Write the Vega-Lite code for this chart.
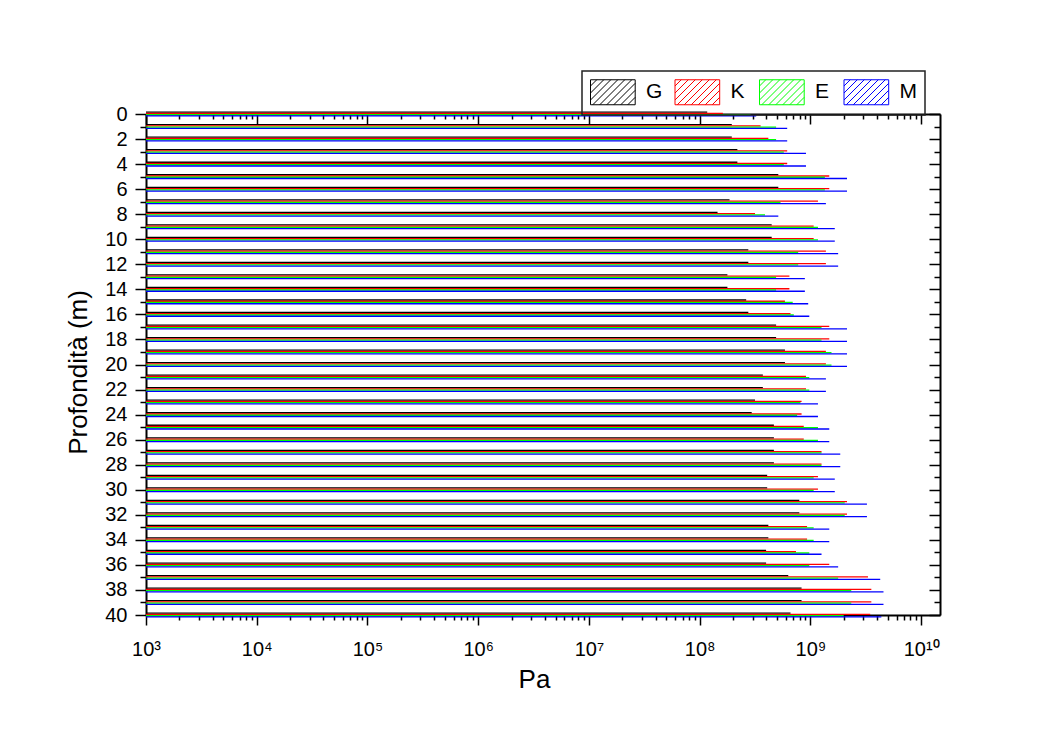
{
  "$schema": "https://vega.github.io/schema/vega-lite/v6.json",
  "autosize": "none",
  "width": 794,
  "height": 501,
  "padding": {"left": 146, "top": 114, "right": 100, "bottom": 131},
  "background": "white",
  "data": {
    "values": [
      {"d":0,"s":"G","v":1.17e8},{"d":0,"s":"K","v":1.62e8},{"d":0,"s":"E","v":2.88e8},{"d":0,"s":"M","v":3.24e8},
      {"d":1,"s":"G","v":1.95e8},{"d":1,"s":"K","v":3.55e8},{"d":1,"s":"E","v":4.9e8},{"d":1,"s":"M","v":6.17e8},
      {"d":2,"s":"G","v":1.95e8},{"d":2,"s":"K","v":4.17e8},{"d":2,"s":"E","v":4.9e8},{"d":2,"s":"M","v":6.17e8},
      {"d":3,"s":"G","v":2.19e8},{"d":3,"s":"K","v":6.17e8},{"d":3,"s":"E","v":5.75e8},{"d":3,"s":"M","v":9.12e8},
      {"d":4,"s":"G","v":2.19e8},{"d":4,"s":"K","v":6.17e8},{"d":4,"s":"E","v":5.75e8},{"d":4,"s":"M","v":9.12e8},
      {"d":5,"s":"G","v":5.13e8},{"d":5,"s":"K","v":1.48e9},{"d":5,"s":"E","v":1.35e9},{"d":5,"s":"M","v":2.14e9},
      {"d":6,"s":"G","v":5.13e8},{"d":6,"s":"K","v":1.48e9},{"d":6,"s":"E","v":1.35e9},{"d":6,"s":"M","v":2.14e9},
      {"d":7,"s":"G","v":1.86e8},{"d":7,"s":"K","v":1.17e9},{"d":7,"s":"E","v":5.37e8},{"d":7,"s":"M","v":1.38e9},
      {"d":8,"s":"G","v":1.45e8},{"d":8,"s":"K","v":3.16e8},{"d":8,"s":"E","v":3.89e8},{"d":8,"s":"M","v":5.13e8},
      {"d":9,"s":"G","v":4.47e8},{"d":9,"s":"K","v":1.07e9},{"d":9,"s":"E","v":1.17e9},{"d":9,"s":"M","v":1.66e9},
      {"d":10,"s":"G","v":4.47e8},{"d":10,"s":"K","v":1.07e9},{"d":10,"s":"E","v":1.17e9},{"d":10,"s":"M","v":1.66e9},
      {"d":11,"s":"G","v":2.75e8},{"d":11,"s":"K","v":1.38e9},{"d":11,"s":"E","v":7.76e8},{"d":11,"s":"M","v":1.78e9},
      {"d":12,"s":"G","v":2.75e8},{"d":12,"s":"K","v":1.38e9},{"d":12,"s":"E","v":7.76e8},{"d":12,"s":"M","v":1.78e9},
      {"d":13,"s":"G","v":1.78e8},{"d":13,"s":"K","v":6.46e8},{"d":13,"s":"E","v":4.9e8},{"d":13,"s":"M","v":8.91e8},
      {"d":14,"s":"G","v":1.78e8},{"d":14,"s":"K","v":6.46e8},{"d":14,"s":"E","v":4.9e8},{"d":14,"s":"M","v":8.91e8},
      {"d":15,"s":"G","v":2.63e8},{"d":15,"s":"K","v":5.89e8},{"d":15,"s":"E","v":6.92e8},{"d":15,"s":"M","v":9.55e8},
      {"d":16,"s":"G","v":2.75e8},{"d":16,"s":"K","v":6.61e8},{"d":16,"s":"E","v":7.08e8},{"d":16,"s":"M","v":9.77e8},
      {"d":17,"s":"G","v":4.9e8},{"d":17,"s":"K","v":1.48e9},{"d":17,"s":"E","v":1.26e9},{"d":17,"s":"M","v":2.14e9},
      {"d":18,"s":"G","v":4.9e8},{"d":18,"s":"K","v":1.48e9},{"d":18,"s":"E","v":1.26e9},{"d":18,"s":"M","v":2.14e9},
      {"d":19,"s":"G","v":5.89e8},{"d":19,"s":"K","v":1.38e9},{"d":19,"s":"E","v":1.55e9},{"d":19,"s":"M","v":2.14e9},
      {"d":20,"s":"G","v":5.89e8},{"d":20,"s":"K","v":1.38e9},{"d":20,"s":"E","v":1.55e9},{"d":20,"s":"M","v":2.14e9},
      {"d":21,"s":"G","v":3.72e8},{"d":21,"s":"K","v":9.12e8},{"d":21,"s":"E","v":9.77e8},{"d":21,"s":"M","v":1.38e9},
      {"d":22,"s":"G","v":3.72e8},{"d":22,"s":"K","v":9.12e8},{"d":22,"s":"E","v":9.77e8},{"d":22,"s":"M","v":1.38e9},
      {"d":23,"s":"G","v":3.16e8},{"d":23,"s":"K","v":8.32e8},{"d":23,"s":"E","v":8.13e8},{"d":23,"s":"M","v":1.17e9},
      {"d":24,"s":"G","v":2.95e8},{"d":24,"s":"K","v":8.32e8},{"d":24,"s":"E","v":7.59e8},{"d":24,"s":"M","v":1.17e9},
      {"d":25,"s":"G","v":4.68e8},{"d":25,"s":"K","v":8.71e8},{"d":25,"s":"E","v":1.17e9},{"d":25,"s":"M","v":1.48e9},
      {"d":26,"s":"G","v":4.68e8},{"d":26,"s":"K","v":8.71e8},{"d":26,"s":"E","v":1.17e9},{"d":26,"s":"M","v":1.48e9},
      {"d":27,"s":"G","v":4.68e8},{"d":27,"s":"K","v":1.26e9},{"d":27,"s":"E","v":1.26e9},{"d":27,"s":"M","v":1.86e9},
      {"d":28,"s":"G","v":4.68e8},{"d":28,"s":"K","v":1.26e9},{"d":28,"s":"E","v":1.26e9},{"d":28,"s":"M","v":1.86e9},
      {"d":29,"s":"G","v":4.07e8},{"d":29,"s":"K","v":1.17e9},{"d":29,"s":"E","v":1.07e9},{"d":29,"s":"M","v":1.66e9},
      {"d":30,"s":"G","v":4.07e8},{"d":30,"s":"K","v":1.17e9},{"d":30,"s":"E","v":1.07e9},{"d":30,"s":"M","v":1.66e9},
      {"d":31,"s":"G","v":7.94e8},{"d":31,"s":"K","v":2.14e9},{"d":31,"s":"E","v":2.04e9},{"d":31,"s":"M","v":3.24e9},
      {"d":32,"s":"G","v":7.94e8},{"d":32,"s":"K","v":2.14e9},{"d":32,"s":"E","v":2.04e9},{"d":32,"s":"M","v":3.24e9},
      {"d":33,"s":"G","v":4.17e8},{"d":33,"s":"K","v":9.33e8},{"d":33,"s":"E","v":1.07e9},{"d":33,"s":"M","v":1.48e9},
      {"d":34,"s":"G","v":4.17e8},{"d":34,"s":"K","v":9.33e8},{"d":34,"s":"E","v":1.07e9},{"d":34,"s":"M","v":1.48e9},
      {"d":35,"s":"G","v":3.98e8},{"d":35,"s":"K","v":7.41e8},{"d":35,"s":"E","v":9.77e8},{"d":35,"s":"M","v":1.26e9},
      {"d":36,"s":"G","v":3.98e8},{"d":36,"s":"K","v":1.48e9},{"d":36,"s":"E","v":9.77e8},{"d":36,"s":"M","v":1.78e9},
      {"d":37,"s":"G","v":6.31e8},{"d":37,"s":"K","v":3.31e9},{"d":37,"s":"E","v":1.78e9},{"d":37,"s":"M","v":4.27e9},
      {"d":38,"s":"G","v":8.32e8},{"d":38,"s":"K","v":3.55e9},{"d":38,"s":"E","v":2.34e9},{"d":38,"s":"M","v":4.57e9},
      {"d":39,"s":"G","v":8.32e8},{"d":39,"s":"K","v":3.55e9},{"d":39,"s":"E","v":2.34e9},{"d":39,"s":"M","v":4.57e9},
      {"d":40,"s":"G","v":6.61e8},{"d":40,"s":"K","v":3.47e9},{"d":40,"s":"E","v":2.0e9},{"d":40,"s":"M","v":4.37e9}
    ]
  },
  "layer": [
    {
      "transform": [{"filter": "datum.s == 'G'"}],
      "mark": {"type": "rule", "strokeWidth": 1.3, "yOffset": -1.875},
      "encoding": {
        "x": {
          "field": "v", "type": "quantitative",
          "scale": {"type": "log", "domain": [1000, 1.48e10], "nice": false},
          "axis": {
            "orient": "bottom", "title": "Pa", "titleFontSize": 26, "titleFontWeight": "normal",
            "titleX": 388, "titleY": 72, "titleAlign": "center", "titleBaseline": "alphabetic",
            "values": [1000,2000,3000,4000,5000,6000,7000,8000,9000,
                       10000,20000,30000,40000,50000,60000,70000,80000,90000,
                       1e5,2e5,3e5,4e5,5e5,6e5,7e5,8e5,9e5,
                       1e6,2e6,3e6,4e6,5e6,6e6,7e6,8e6,9e6,
                       1e7,2e7,3e7,4e7,5e7,6e7,7e7,8e7,9e7,
                       1e8,2e8,3e8,4e8,5e8,6e8,7e8,8e8,9e8,
                       1e9,2e9,3e9,4e9,5e9,6e9,7e9,8e9,9e9,1e10],
            "labelExpr": "datum.value == 1000 ? '10³' : datum.value == 10000 ? '10⁴' : datum.value == 100000 ? '10⁵' : datum.value == 1000000 ? '10⁶' : datum.value == 10000000 ? '10⁷' : datum.value == 100000000 ? '10⁸' : datum.value == 1000000000 ? '10⁹' : datum.value == 10000000000 ? '10¹⁰' : ''",
            "labelFontSize": 20, "labelPadding": 14, "labelOverlap": false, "labelFlush": false,
            "tickSize": {"condition": {"test": "abs(log(datum.value)/LN10 - round(log(datum.value)/LN10)) < 0.001", "value": 10}, "value": 5}
          }
        },
        "x2": {"datum": 1000},
        "y": {
          "field": "d", "type": "quantitative",
          "scale": {"domain": [0, 40], "reverse": true, "nice": false, "zero": false},
          "axis": {
            "orient": "left", "title": "Profondità (m)", "titleFontSize": 26, "titleFontWeight": "normal",
            "titleAngle": 270, "titleX": -60, "titleY": 258, "titleAlign": "center", "titleBaseline": "alphabetic",
            "values": [0,1,2,3,4,5,6,7,8,9,10,11,12,13,14,15,16,17,18,19,20,21,22,23,24,25,26,27,28,29,30,31,32,33,34,35,36,37,38,39,40],
            "labelExpr": "datum.value % 2 == 0 ? datum.label : ''",
            "labelFontSize": 20, "labelPadding": 8, "labelOverlap": false, "labelFlush": false,
            "tickSize": {"condition": {"test": "datum.value % 2 == 0", "value": 11}, "value": 6}
          }
        },
        "color": {
          "field": "s", "type": "nominal",
          "scale": {"domain": ["G", "K", "E", "M"], "range": ["#000000", "#ff0000", "#00ff00", "#0000ff"]},
          "legend": {
            "title": null, "orient": "none", "legendX": 436, "legendY": -43,
            "direction": "horizontal", "columns": 4, "gridAlign": "all", "columnPadding": 8.5,
            "labelOffset": 30, "labelFontSize": 21, "labelColor": "black",
            "symbolSize": 625, "symbolStrokeWidth": 1, "symbolFillColor": "transparent", "symbolOpacity": 1,
            "symbolType": "M-1,-1H2.576V1H-1Z M-1,-0.5L-0.5,-1 M-1,0.06L0.06,-1 M-1,0.62L0.62,-1 M-0.82,1L1.18,-1 M-0.26,1L1.74,-1 M0.3,1L2.3,-1 M0.86,1L2.576,-0.716 M1.42,1L2.576,-0.156 M1.98,1L2.576,0.404",
            "strokeColor": "#222222", "padding": 8
          }
        }
      }
    },
    {
      "transform": [{"filter": "datum.s == 'K'"}],
      "mark": {"type": "rule", "strokeWidth": 1.3, "yOffset": -0.625},
      "encoding": {
        "x": {
          "field": "v", "type": "quantitative",
          "axis": {
            "orient": "top", "title": null, "labels": false,
            "values": [1000,2000,3000,4000,5000,6000,7000,8000,9000,
                       10000,20000,30000,40000,50000,60000,70000,80000,90000,
                       1e5,2e5,3e5,4e5,5e5,6e5,7e5,8e5,9e5,
                       1e6,2e6,3e6,4e6,5e6,6e6,7e6,8e6,9e6,
                       1e7,2e7,3e7,4e7,5e7,6e7,7e7,8e7,9e7,
                       1e8,2e8,3e8,4e8,5e8,6e8,7e8,8e8,9e8,
                       1e9,2e9,3e9,4e9,5e9,6e9,7e9,8e9,9e9,1e10],
            "tickSize": {"condition": {"test": "abs(log(datum.value)/LN10 - round(log(datum.value)/LN10)) < 0.001", "value": -10}, "value": -5}
          }
        },
        "x2": {"datum": 1000},
        "y": {
          "field": "d", "type": "quantitative",
          "axis": {
            "orient": "right", "title": null, "labels": false,
            "values": [0,1,2,3,4,5,6,7,8,9,10,11,12,13,14,15,16,17,18,19,20,21,22,23,24,25,26,27,28,29,30,31,32,33,34,35,36,37,38,39,40],
            "tickSize": {"condition": {"test": "datum.value % 2 == 0", "value": -11}, "value": -6}
          }
        },
        "color": {"field": "s", "type": "nominal"}
      }
    },
    {
      "transform": [{"filter": "datum.s == 'E'"}],
      "mark": {"type": "rule", "strokeWidth": 1.3, "yOffset": 0.625},
      "encoding": {
        "x": {"field": "v", "type": "quantitative", "axis": null},
        "x2": {"datum": 1000},
        "y": {"field": "d", "type": "quantitative", "axis": null},
        "color": {"field": "s", "type": "nominal"}
      }
    },
    {
      "transform": [{"filter": "datum.s == 'M'"}],
      "mark": {"type": "rule", "strokeWidth": 1.3, "yOffset": 1.875},
      "encoding": {
        "x": {"field": "v", "type": "quantitative", "axis": null},
        "x2": {"datum": 1000},
        "y": {"field": "d", "type": "quantitative", "axis": null},
        "color": {"field": "s", "type": "nominal"}
      }
    }
  ],
  "resolve": {"axis": {"x": "independent", "y": "independent"}},
  "config": {
    "font": "Liberation Sans",
    "view": {"stroke": null},
    "axis": {
      "grid": false,
      "domainColor": "black", "domainWidth": 2,
      "tickColor": "black", "tickWidth": 1.5,
      "labelColor": "black", "labelFont": "Liberation Sans",
      "titleColor": "black", "titleFont": "Liberation Sans"
    },
    "legend": {"strokeWidth": 1.5, "labelFont": "Liberation Sans", "labelFontSize": 21}
  }
}
